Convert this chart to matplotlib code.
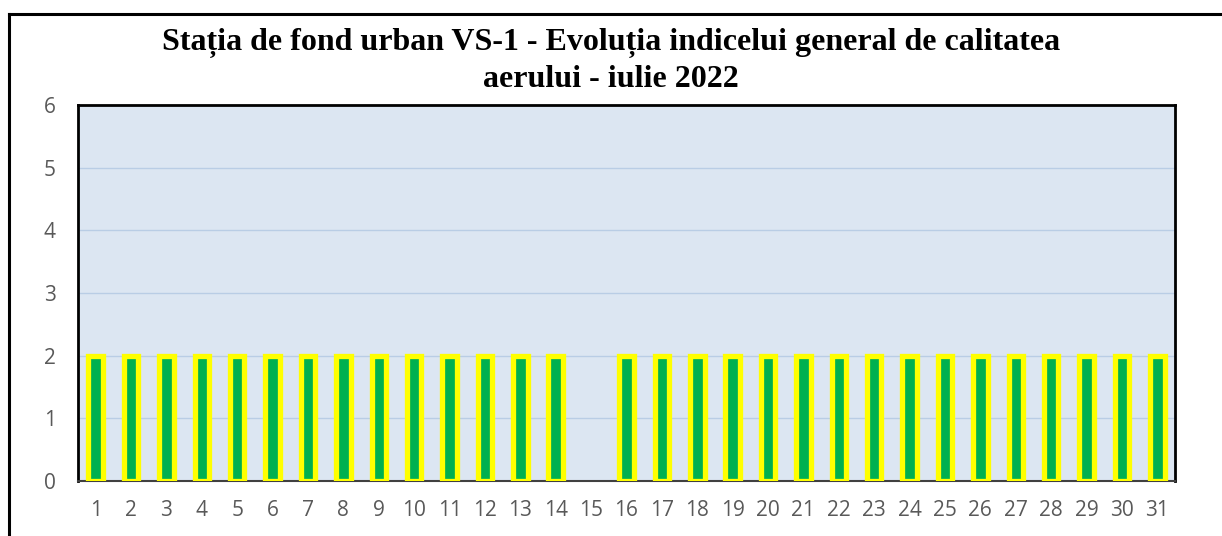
import matplotlib
matplotlib.use("Agg")
import matplotlib.pyplot as plt
from matplotlib.lines import Line2D
import numpy as np

days = list(range(1, 32))
values = [2]*14 + [np.nan] + [2]*16
yticks = [0, 1, 2, 3, 4, 5, 6]
title = "Stația de fond urban VS-1 - Evoluția indicelui general de calitatea\naerului - iulie 2022"

W, H = 1222, 536
fig = plt.figure(figsize=(W/100, H/100), dpi=100)
fig.patch.set_facecolor("white")

# axes placement in pixels
left, right, top, bottom = 78, 1175, 105, 481
ax = fig.add_axes([left/W, 1 - bottom/H, (right-left)/W, (bottom-top)/H])
ax.set_facecolor("#DCE6F2")

ax.bar(days, values, width=0.41, color="#00B050", edgecolor="#FFFF00",
       linewidth=3.8, zorder=3)

ax.set_xlim(0.5, 31.5)
ax.set_ylim(0, 6)
ax.set_yticks(yticks)
ax.set_xticks(days)
ax.set_xticklabels([str(d) for d in days])
ax.yaxis.grid(True, color="#B9CDE5", linewidth=1.0, zorder=0)
ax.set_axisbelow(True)
ax.tick_params(axis="both", length=0, labelsize=15, colors="#595959")
ax.tick_params(axis="x", pad=14)
ax.tick_params(axis="y", pad=16)
for lbl in ax.get_xticklabels() + ax.get_yticklabels():
    lbl.set_fontfamily("Open Sans")

for s in ["top", "left", "right"]:
    ax.spines[s].set_color("black")
    ax.spines[s].set_linewidth(2.0)
ax.spines["bottom"].set_color("#404040")
ax.spines["bottom"].set_linewidth(1.5)

fig.text(0.5, 1 - 61/H, title, ha="center", va="center", fontsize=23,
         fontweight="bold", family="Liberation Serif", linespacing=1.3)

# outer frame (left and top edges visible)
fig.add_artist(Line2D([9/W, 9/W], [0, 1 - 14/H], transform=fig.transFigure, color="black", linewidth=2.2))
fig.add_artist(Line2D([9/W, 1], [1 - 14/H, 1 - 14/H], transform=fig.transFigure, color="black", linewidth=2.2))

fig.savefig("out.png", dpi=100)
